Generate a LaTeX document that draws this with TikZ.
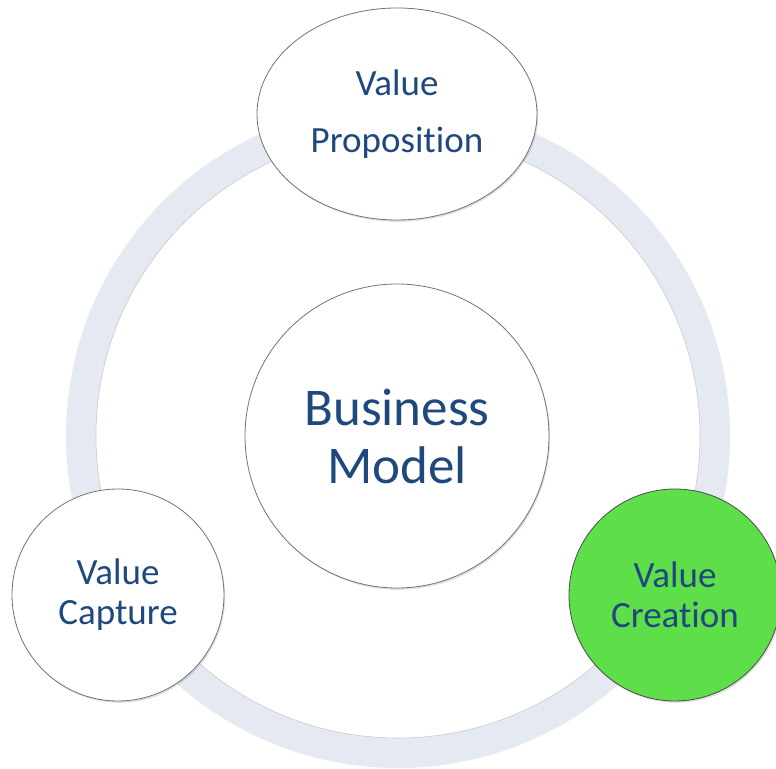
\documentclass[tikz,border=0pt]{standalone}
\usepackage{fontspec}
\setmainfont[Ligatures={CommonOff,ContextualOff}]{Carlito}
\usetikzlibrary{shadows,shapes.geometric}

\definecolor{labelblue}{RGB}{31,73,125}
\definecolor{ringgrey}{RGB}{228,233,242}
\definecolor{creategreen}{RGB}{94,222,72}

\tikzset{
	bubble/.style={draw=black!55, fill=white, line width=0.8pt, text=labelblue, align=center, inner sep=0pt,
		drop shadow={shadow xshift=1.2pt, shadow yshift=-1.8pt, opacity=0.25}},
	small/.style={bubble, circle, minimum size=212pt, font=\fontsize{37}{40}\selectfont}
}

\begin{document}
\begin{tikzpicture}[x=1pt, y=1pt]
	\useasboundingbox (0,0) rectangle (776,768);
	
	% RING
	\draw[ringgrey, line width=30pt] (398,332) circle[radius=317pt];
	\draw[black!30, line width=0.6pt, opacity=0.6] (398,332) circle[radius=302pt];
	
	% BUSINESS MODEL
	\node[bubble, circle, minimum size=304pt, font=\fontsize{53}{58}\selectfont] (model) at (397,332) {Business\\Model};
	
	% VALUE PROPOSITION
	\node[bubble, ellipse, minimum width=280pt, minimum height=212pt, font=\fontsize{37}{57}\selectfont] (proposition) at (397,654) {Value\\Proposition};
	
	% VALUE CAPTURE
	\node[small] (capture) at (118,173) {Value\\Capture};
	
	% VALUE CREATION
	\node[small, fill=creategreen, draw=black!70] (creation) at (675,173) {Value\\Creation};
\end{tikzpicture}
\end{document}
